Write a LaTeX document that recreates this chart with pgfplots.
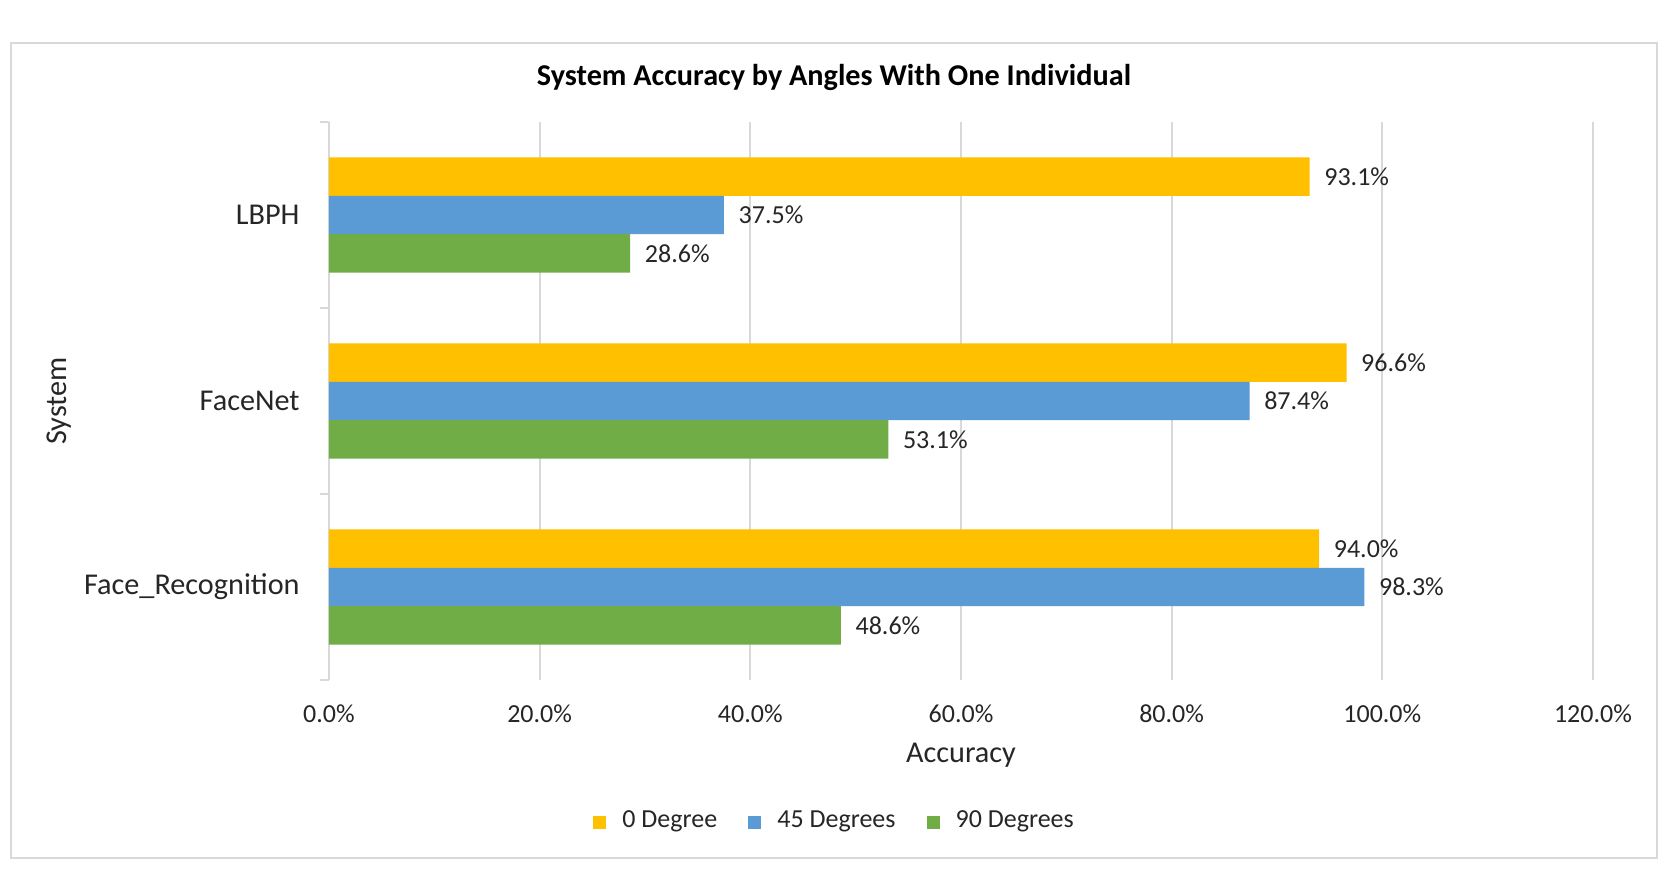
\documentclass[border=0pt]{standalone}
\usepackage{fontspec}
\setmainfont{Carlito}
\usepackage{pgfplots}
\pgfplotsset{compat=1.18}
\definecolor{cYel}{HTML}{FFC000}
\definecolor{cBlu}{HTML}{5B9BD5}
\definecolor{cGrn}{HTML}{70AD47}
\definecolor{cGrid}{HTML}{D9D9D9}
\definecolor{cTxt}{HTML}{262626}
\begin{document}
\begin{tikzpicture}
\useasboundingbox (0,0) rectangle (16.7,8.83);
\fill[white] (0,0) rectangle (16.7,8.83);
\draw[cGrid, line width=0.8pt] (0.11,0.25) rectangle (16.57,8.40);
\node[font=\fontsize{8.6}{10}\selectfont\bfseries, text=black] at (8.34,8.06) {System Accuracy by Angles With One Individual};
\begin{axis}[
  at={(3.29cm,2.03cm)}, anchor=south west, scale only axis,
  width=12.64cm, height=5.58cm,
  xbar, bar width=0.384cm,
  /pgf/number format/assume math mode=true,
  xmin=0, xmax=120, ymin=-0.5, ymax=2.5,
  xtick={0,20,...,120},
  xticklabels={0.0\%,20.0\%,40.0\%,60.0\%,80.0\%,100.0\%,120.0\%},
  ytick={0,1,2}, yticklabels={Face\_Recognition,FaceNet,LBPH},
  minor ytick={-0.5,0.5,1.5,2.5},
  xmajorgrids, grid style={cGrid, line width=0.6pt},
  axis line style={draw=none},
  major tick length=0pt, minor tick length=0.09cm,
  ytick pos=left, xtick pos=bottom, tick align=outside,
  minor tick style={cGrid, line width=0.6pt},
  xticklabel style={font=\fontsize{7.4}{9}\selectfont, text=cTxt, yshift=-0.12cm},
  yticklabel style={font=\fontsize{8.6}{10}\selectfont, text=cTxt, xshift=-0.17cm},
  xlabel={Accuracy}, ylabel={System},
  label style={font=\fontsize{8.6}{10}\selectfont, text=cTxt},
  xlabel style={at={(axis description cs:0.5,-0.1344)}, anchor=center},
  ylabel style={at={(axis description cs:-0.2136,0.5)}, anchor=center},
  point meta=x,
  nodes near coords={\pgfmathprintnumber[fixed,fixed zerofill,precision=1]{\pgfplotspointmeta}\%},
  nodes near coords style={font=\fontsize{7.4}{9}\selectfont, text=cTxt, anchor=west, inner sep=0pt, xshift=0.14cm},
  legend columns=3,
  legend image code/.code={\fill[#1] (0cm,-0.065cm) rectangle (0.13cm,0.065cm); \path (0.22cm,0cm);},
  legend style={at={(0.402,-0.2545)}, anchor=center, draw=none, fill=none,
    font=\fontsize{7.4}{9}\selectfont, text=cTxt,
    /tikz/every even column/.append style={column sep=0.24cm}},
]
\addplot[draw=none, fill=cYel, bar shift=0.384cm] coordinates {(94.0,0) (96.6,1) (93.1,2)};
\addplot[draw=none, fill=cBlu, bar shift=0cm] coordinates {(98.3,0) (87.4,1) (37.5,2)};
\addplot[draw=none, fill=cGrn, bar shift=-0.384cm] coordinates {(48.6,0) (53.1,1) (28.6,2)};
\legend{0 Degree, 45 Degrees, 90 Degrees}
\end{axis}
\end{tikzpicture}
\end{document}
